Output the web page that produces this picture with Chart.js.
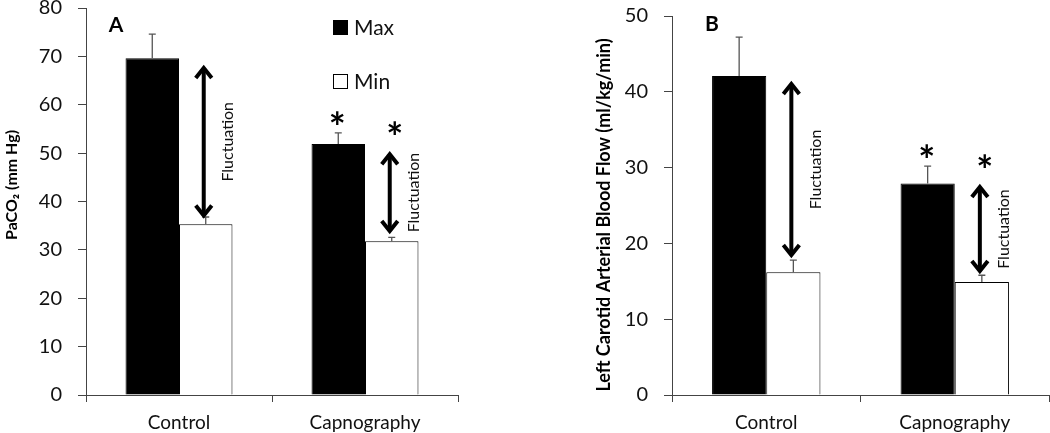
<!DOCTYPE html>
<html>
<head>
<meta charset="utf-8">
<script src="https://cdn.jsdelivr.net/npm/chart.js@4.4.1/dist/chart.umd.min.js"></script>
<style>
  body { margin: 0; background: #fff; }
  .panel { position: absolute; top: 0; width: 525px; height: 433px; }
  #panelA { left: 0; }
  #panelB { left: 525px; }
</style>
</head>
<body>
<div class="panel" id="panelA"><canvas id="chartA"></canvas></div>
<div class="panel" id="panelB"><canvas id="chartB"></canvas></div>
<script>
// data
const categories = ["Control", "Capnography"];
const seriesLabels = ["Max", "Min"];

// panel A - PaCO2 (mm Hg)
const pacoMax = [69.6, 51.9];
const pacoMaxErr = [5.0, 2.3];
const pacoMin = [35.3, 31.8];
const pacoMinErr = [1.5, 0.8];
const pacoArrows = [[68.0, 36.7], [50.2, 33.5]]; // [top, bottom] of the fluctuation arrow
const pacoTicks = { min: 0, max: 80, step: 10 };

// panel B - left carotid arterial blood flow
const flowMax = [42.1, 27.9];
const flowMaxErr = [5.1, 2.3];
const flowMin = [16.2, 14.9];
const flowMinErr = [1.6, 0.9];
const flowArrows = [[41.3, 18.2], [27.7, 16.1]];
const flowTicks = { min: 0, max: 50, step: 10 };

// significance vs control
const starMax = [false, true];
const starMin = [false, true];

const fontFamily = "Lato, 'Open Sans', sans-serif";
const axisColor = "#444";
const textColor = "#111";

// draws error bars, fluctuation arrows, asterisks, panel letter, y title and legend
const overlayPlugin = {
  id: "overlay",
  afterDatasetsDraw(chart, args, opts) {
    const ctx = chart.ctx;
    const y = chart.scales.y;
    const area = chart.chartArea;
    const errTops = [[], []];

    ctx.save();

    // error bars (upward only)
    opts.errors.forEach((errs, di) => {
      const meta = chart.getDatasetMeta(di);
      const values = chart.data.datasets[di].data;
      meta.data.forEach((bar, i) => {
        const top = y.getPixelForValue(values[i] + errs[i]);
        errTops[di][i] = top;
        ctx.strokeStyle = "#555";
        ctx.lineWidth = 1.3;
        ctx.beginPath();
        ctx.moveTo(bar.x, bar.y);
        ctx.lineTo(bar.x, top);
        ctx.moveTo(bar.x - 3.5, top);
        ctx.lineTo(bar.x + 3.5, top);
        ctx.stroke();
      });
    });

    // fluctuation arrows
    const minMeta = chart.getDatasetMeta(1);
    const arrowTops = [];
    opts.arrows.forEach(([hi, lo], i) => {
      const x = minMeta.data[i].x - 2;
      const y1 = y.getPixelForValue(hi);
      const y2 = y.getPixelForValue(lo);
      arrowTops[i] = y1;
      ctx.strokeStyle = "#000";
      ctx.lineWidth = 4;
      ctx.lineCap = "butt";
      ctx.lineJoin = "miter";
      ctx.beginPath();
      ctx.moveTo(x, y1 + 2);
      ctx.lineTo(x, y2 - 2);
      ctx.stroke();
      ctx.beginPath();
      ctx.moveTo(x - 8, y1 + 12);
      ctx.lineTo(x, y1 + 2);
      ctx.lineTo(x + 8, y1 + 12);
      ctx.moveTo(x - 8, y2 - 12);
      ctx.lineTo(x, y2 - 2);
      ctx.lineTo(x + 8, y2 - 12);
      ctx.stroke();

      // label
      ctx.save();
      ctx.translate(minMeta.data[i].x + 22, (y1 + y2) / 2);
      ctx.rotate(-Math.PI / 2);
      ctx.fillStyle = textColor;
      ctx.font = "16px " + fontFamily;
      ctx.textAlign = "center";
      ctx.textBaseline = "middle";
      ctx.fillText("Fluctuation", 0, 0);
      ctx.restore();
    });

    // asterisks
    ctx.font = "bold 40px " + fontFamily;
    ctx.textAlign = "center";
    ctx.fillStyle = "#000";
    const m = ctx.measureText("*");
    const starShift = (m.actualBoundingBoxDescent - m.actualBoundingBoxAscent) / 2;
    [starMax, starMin].forEach((flags, di) => {
      const meta = chart.getDatasetMeta(di);
      flags.forEach((flag, i) => {
        if (!flag) return;
        let cy = errTops[di][i] - 15;
        if (di === 1) cy = Math.min(cy, arrowTops[i] - 24);
        ctx.fillText("*", meta.data[i].x + (di === 1 ? 3 : -1), cy - starShift);
      });
    });

    // panel letter
    ctx.font = "bold 21px " + fontFamily;
    ctx.textBaseline = "middle";
    ctx.fillText(opts.letter, area.left + opts.letterDx, opts.letterY);

    // y axis title
    ctx.save();
    ctx.translate(opts.titleX, opts.titleY);
    ctx.rotate(-Math.PI / 2);
    ctx.font = "bold " + opts.titleSize + "px " + fontFamily;
    ctx.textAlign = "center";
    ctx.textBaseline = "middle";
    ctx.fillText(opts.title, 0, 0);
    ctx.restore();

    // legend
    if (opts.legend) {
      chart.data.datasets.forEach((ds, di) => {
        const bx = area.left + 247;
        const by = area.top + 12 + di * 54;
        ctx.fillStyle = ds.backgroundColor;
        ctx.fillRect(bx, by, 15, 15);
        ctx.strokeStyle = "#000";
        ctx.lineWidth = 1;
        ctx.strokeRect(bx + 0.5, by + 0.5, 14, 14);
        ctx.fillStyle = textColor;
        ctx.font = "21px " + fontFamily;
        ctx.textAlign = "left";
        ctx.fillText(ds.label, bx + 21, by + 8);
      });
    }

    ctx.restore();
  },
};

function makeChart(canvasId, maxData, minData, maxErr, minErr, arrows, ticks, cfg) {
  return new Chart(document.getElementById(canvasId), {
    type: "bar",
    data: {
      labels: categories,
      datasets: [
        {
          label: seriesLabels[0],
          data: maxData,
          backgroundColor: "#000",
          borderColor: "#000",
          borderWidth: 1,
        },
        {
          label: seriesLabels[1],
          data: minData,
          backgroundColor: "#fff",
          borderColor: "#000",
          borderWidth: 1,
        },
      ],
    },
    options: {
      responsive: true,
      maintainAspectRatio: false,
      animation: false,
      categoryPercentage: 0.575,
      barPercentage: 1,
      layout: { padding: cfg.padding },
      scales: {
        x: {
          grid: {
            drawOnChartArea: false,
            drawTicks: true,
            tickLength: 7,
            color: axisColor,
            offset: true,
          },
          border: { display: true, color: axisColor, width: 1 },
          ticks: {
            color: textColor,
            padding: 9,
            font: { family: fontFamily, size: 19 },
          },
          afterFit: (scale) => {
            scale.height = 38;
            scale.paddingLeft = 0;
            scale.paddingRight = 0;
          },
        },
        y: {
          min: ticks.min,
          max: ticks.max,
          grid: {
            drawOnChartArea: false,
            drawTicks: true,
            tickLength: 8,
            color: axisColor,
          },
          border: { display: true, color: axisColor, width: 1 },
          ticks: {
            stepSize: ticks.step,
            color: textColor,
            padding: 16,
            font: { family: fontFamily, size: 20 },
          },
          afterFit: (scale) => {
            scale.width = cfg.yWidth;
            scale.paddingTop = 0;
            scale.paddingBottom = 0;
          },
        },
      },
      plugins: {
        legend: { display: false },
        tooltip: { enabled: false },
        overlay: {
          errors: [maxErr, minErr],
          arrows: arrows,
          letter: cfg.letter,
          letterDx: cfg.letterDx,
          letterY: cfg.letterY,
          title: cfg.yTitle,
          titleSize: cfg.titleSize,
          titleX: cfg.titleX,
          titleY: cfg.titleY,
          legend: cfg.legend,
        },
      },
    },
    plugins: [overlayPlugin],
  });
}

makeChart("chartA", pacoMax, pacoMin, pacoMaxErr, pacoMinErr, pacoArrows, pacoTicks, {
  padding: { left: 0, right: 67, top: 8, bottom: 0 },
  yWidth: 86,
  yTitle: "PaCO₂ (mm Hg)",
  titleSize: 16,
  titleX: 12,
  titleY: 185,
  letter: "A",
  letterDx: 30,
  letterY: 25,
  legend: true,
});

makeChart("chartB", flowMax, flowMin, flowMaxErr, flowMinErr, flowArrows, flowTicks, {
  padding: { left: 0, right: 1, top: 16, bottom: 0 },
  yWidth: 147,
  yTitle: "Left Carotid Arterial Blood Flow (ml/kg/min)",
  titleSize: 18,
  titleX: 79,
  titleY: 215,
  letter: "B",
  letterDx: 40,
  letterY: 24,
  legend: false,
});
</script>
</body>
</html>
